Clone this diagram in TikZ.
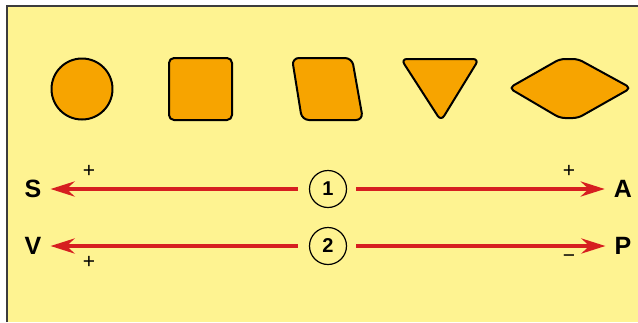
\documentclass[tikz,border=0pt]{standalone}
\usepackage{fontspec}
\setmainfont{Liberation Sans}
\usetikzlibrary{arrows.meta}
\definecolor{bgyellow}{RGB}{254,243,145}
\definecolor{shapeorange}{RGB}{247,164,0}
\definecolor{arrowred}{RGB}{214,30,32}
\definecolor{framegray}{RGB}{60,60,60}
\tikzset{
  shapestyle/.style={draw=black, line width=2pt, fill=shapeorange, line join=round},
  letter/.style={font=\fontsize{25}{25}\selectfont\bfseries, inner sep=0pt},
  numcircle/.style={circle, draw=black, line width=1.2pt, fill=bgyellow, minimum size=37pt, inner sep=0pt, font=\fontsize{20}{20}\selectfont\bfseries},
  sign/.style={font=\fontsize{21}{21}\selectfont, inner sep=0pt},
  redarrow/.style={draw=arrowred, line width=4.2pt, -{Stealth[length=24pt,width=15pt,inset=8pt]}}
}
\begin{document}
\begin{tikzpicture}[x=1pt,y=-1pt]
\useasboundingbox (0,0) rectangle (638,322);
\fill[white] (0,0) rectangle (638,322);
\fill[bgyellow] (7,6) rectangle (638,322);
\draw[framegray, line width=1.5pt] (7,322) -- (7,6) -- (638,6);
% shapes
\draw[shapestyle] (82,89) circle [radius=30.5];
\draw[shapestyle, rounded corners=5pt] (169,58) rectangle (232,120);
\draw[shapestyle, rounded corners=7pt] (292,58) -- (352,58) -- (363,120) -- (302,120) -- cycle;
\draw[shapestyle, rounded corners=6pt] (401,59) -- (479,59) -- (441,121) -- cycle;
\draw[shapestyle, rounded corners=5pt] (509,88) -- (560,59) -- (578,59) -- (631,88) -- (578,118) -- (560,118) -- cycle;
% labels
\node[letter] (S) at (33,189) {S};
\node[letter] (V) at (33,246) {V};
\node[letter] (A) at (623,189) {A};
\node[letter] (P) at (623,246) {P};
\node[numcircle] (n1) at (328,189) {1};
\node[numcircle] (n2) at (328,246) {2};
% arrows
\draw[redarrow, shorten <=11pt, shorten >=9pt] (n1) -- (S);
\draw[redarrow, shorten <=9pt, shorten >=9pt] (n1) -- (A);
\draw[redarrow, shorten <=11pt, shorten >=9pt] (n2) -- (V);
\draw[redarrow, shorten <=9pt, shorten >=9pt] (n2) -- (P);
% signs
\node[sign] (s1) at (89,171) {+};
\node[sign] (s2) at (89,262) {+};
\node[sign] (s3) at (569,171) {+};
\node[sign] (s4) at (569,259) {−};
\end{tikzpicture}
\end{document}
